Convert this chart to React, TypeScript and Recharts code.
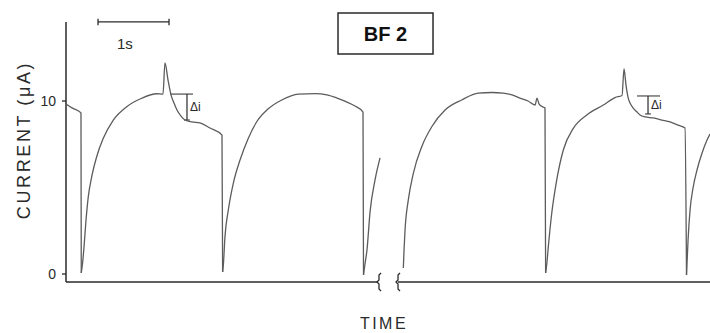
import React from 'react'
import {
  ComposedChart,
  Line,
  XAxis,
  YAxis,
  ReferenceLine,
  ReferenceArea,
} from 'recharts'

type Pt = { t: number; v: number }

// time in seconds (1 s = scale bar), current in µA
const leadIn: Pt[] = [
  { t: 0, v: 9.83 }, { t: 0.085, v: 9.6 }, { t: 0.211, v: 9.31 }, { t: 0.215, v: 0.06 },
]

const cycle1: Pt[] = [
  { t: 0.215, v: 0.06 }, { t: 0.235, v: 0.69 }, { t: 0.254, v: 1.58 }, { t: 0.282, v: 3.12 },
  { t: 0.314, v: 4.47 }, { t: 0.362, v: 5.62 }, { t: 0.432, v: 6.78 }, { t: 0.525, v: 7.84 },
  { t: 0.666, v: 8.9 }, { t: 0.855, v: 9.67 }, { t: 1.066, v: 10.16 }, { t: 1.278, v: 10.42 },
  { t: 1.366, v: 10.4 }, { t: 1.394, v: 12.2 },
  { t: 1.437, v: 11.21 }, { t: 1.479, v: 10.35 }, { t: 1.521, v: 9.88 }, { t: 1.563, v: 9.48 },
  { t: 1.62, v: 9.13 }, { t: 1.676, v: 8.9 }, { t: 1.775, v: 8.79 }, { t: 1.887, v: 8.73 },
  { t: 2.028, v: 8.44 }, { t: 2.197, v: 8.03 }, { t: 2.206, v: 0.12 },
]

const cycle2: Pt[] = [
  { t: 2.206, v: 0.12 }, { t: 2.216, v: 0.52 }, { t: 2.239, v: 2.16 }, { t: 2.286, v: 3.7 },
  { t: 2.356, v: 5.24 }, { t: 2.451, v: 6.59 }, { t: 2.568, v: 7.85 }, { t: 2.686, v: 8.8 },
  { t: 2.849, v: 9.55 }, { t: 3.038, v: 10.06 }, { t: 3.272, v: 10.4 }, { t: 3.507, v: 10.43 },
  { t: 3.676, v: 10.35 }, { t: 3.817, v: 10.17 }, { t: 3.958, v: 9.94 }, { t: 4.07, v: 9.71 },
  { t: 4.183, v: 9.36 }, { t: 4.19, v: -0.06 },
]

const beforeBreak: Pt[] = [
  { t: 4.19, v: -0.06 }, { t: 4.211, v: 0.58 }, { t: 4.239, v: 1.39 }, { t: 4.282, v: 3.58 },
  { t: 4.352, v: 5.43 }, { t: 4.423, v: 6.71 },
]

const cycle3: Pt[] = [
  { t: 4.751, v: 0.35 }, { t: 4.761, v: 1.39 }, { t: 4.775, v: 2.54 }, { t: 4.821, v: 4.28 },
  { t: 4.892, v: 5.82 }, { t: 5.01, v: 7.36 }, { t: 5.151, v: 8.51 }, { t: 5.338, v: 9.48 },
  { t: 5.573, v: 10.06 }, { t: 5.807, v: 10.45 }, { t: 6.0, v: 10.49 },
  { t: 6.155, v: 10.46 }, { t: 6.282, v: 10.35 }, { t: 6.394, v: 10.17 }, { t: 6.507, v: 10.0 },
  { t: 6.606, v: 9.77 }, { t: 6.634, v: 10.17 }, { t: 6.662, v: 9.83 }, { t: 6.718, v: 9.65 },
  { t: 6.746, v: 9.6 }, { t: 6.755, v: 0.06 },
]

const cycle4: Pt[] = [
  { t: 6.755, v: 0.06 }, { t: 6.77, v: 0.52 }, { t: 6.793, v: 1.58 }, { t: 6.841, v: 3.51 },
  { t: 6.911, v: 5.43 }, { t: 7.004, v: 7.17 }, { t: 7.145, v: 8.42 }, { t: 7.334, v: 9.19 },
  { t: 7.568, v: 9.77 }, { t: 7.732, v: 10.2 }, { t: 7.831, v: 10.32 }, { t: 7.859, v: 11.85 },
  { t: 7.887, v: 10.92 }, { t: 7.915, v: 10.23 }, { t: 7.944, v: 9.88 }, { t: 7.986, v: 9.6 },
  { t: 8.042, v: 9.36 }, { t: 8.085, v: 9.19 }, { t: 8.155, v: 9.08 }, { t: 8.268, v: 9.02 },
  { t: 8.394, v: 8.9 }, { t: 8.507, v: 8.79 }, { t: 8.62, v: 8.61 }, { t: 8.718, v: 8.44 },
  { t: 8.739, v: -0.06 },
]

const cycle5: Pt[] = [
  { t: 8.739, v: -0.06 }, { t: 8.761, v: 1.97 }, { t: 8.789, v: 3.7 }, { t: 8.831, v: 4.97 },
  { t: 8.887, v: 6.01 }, { t: 8.958, v: 6.99 }, { t: 9.028, v: 7.75 }, { t: 9.07, v: 8.09 },
]

// axis break marks
const breakLeft: Pt[] = [
  { t: 4.437, v: 0.06 }, { t: 4.408, v: -0.06 }, { t: 4.408, v: -0.35 }, { t: 4.38, v: -0.46 },
  { t: 4.408, v: -0.58 }, { t: 4.408, v: -0.87 }, { t: 4.437, v: -0.98 },
]
const breakRight: Pt[] = [
  { t: 4.704, v: 0.06 }, { t: 4.676, v: -0.06 }, { t: 4.676, v: -0.35 }, { t: 4.648, v: -0.46 },
  { t: 4.676, v: -0.58 }, { t: 4.676, v: -0.87 }, { t: 4.704, v: -0.98 },
]

const traces = [leadIn, cycle1, cycle2, beforeBreak, cycle3, cycle4, cycle5]
const yTicks = [0, 10]
const axisY = -0.46
const axisTop = 14.57
const xMax = 9.07

const FONT = '"Liberation Sans", Arial, sans-serif'
const INK = '#2a2a2a'
const TRACE = '#5c5c5c'

export default function App() {
  return (
    <div
      style={{
        position: 'absolute',
        left: 0,
        top: 0,
        width: 710,
        height: 333,
        background: '#fff',
        fontFamily: FONT,
      }}
    >
      <ComposedChart width={710} height={333} margin={{ top: 10, right: 0, bottom: 33, left: 0 }}>
        <XAxis dataKey="t" type="number" domain={[0, xMax]} allowDataOverflow hide />
        <YAxis
          type="number"
          domain={[-1.503, 15.26]}
          allowDataOverflow
          ticks={yTicks}
          width={66}
          axisLine={false}
          tickSize={4}
          tickMargin={6}
          tickLine={{ stroke: INK, strokeWidth: 1.3 }}
          tick={{ fontSize: 14, fill: INK, fontFamily: FONT }}
        />

        {/* axes drawn as segments so the x axis can be broken */}
        <ReferenceLine segment={[{ x: 0, y: axisY }, { x: 0, y: axisTop }]} stroke={INK} strokeWidth={1.5} ifOverflow="visible" />
        <ReferenceLine segment={[{ x: 0, y: axisY }, { x: 4.394, y: axisY }]} stroke={INK} strokeWidth={1.6} ifOverflow="visible" />
        <ReferenceLine segment={[{ x: 4.676, y: axisY }, { x: xMax, y: axisY }]} stroke={INK} strokeWidth={1.6} ifOverflow="visible" />

        {/* 1 s scale bar */}
        <ReferenceLine segment={[{ x: 0.451, y: 14.57 }, { x: 1.451, y: 14.57 }]} stroke={INK} strokeWidth={1.3} ifOverflow="visible" />
        <ReferenceLine segment={[{ x: 0.451, y: 14.76 }, { x: 0.451, y: 14.38 }]} stroke={INK} strokeWidth={1.3} ifOverflow="visible" />
        <ReferenceLine segment={[{ x: 1.451, y: 14.76 }, { x: 1.451, y: 14.38 }]} stroke={INK} strokeWidth={1.3} ifOverflow="visible" />

        <ReferenceArea
          x1={3.831}
          x2={5.169}
          y1={12.72}
          y2={15.09}
          fill="#fff"
          fillOpacity={1}
          stroke={INK}
          strokeWidth={1.5}
          ifOverflow="visible"
          label={{ value: 'BF 2', position: 'center', fontSize: 20, fill: '#111', fontFamily: FONT, fontWeight: 700 }}
        />

        {/* delta i brackets */}
        <ReferenceLine segment={[{ x: 1.465, y: 10.4 }, { x: 1.789, y: 10.4 }]} stroke={INK} strokeWidth={1} />
        <ReferenceLine
          segment={[{ x: 1.704, y: 10.4 }, { x: 1.704, y: 8.9 }]}
          stroke={INK}
          strokeWidth={1.2}
          label={{ value: 'Δi', position: 'right', offset: 3, fontSize: 12, fill: INK, fontFamily: FONT }}
        />
        <ReferenceLine segment={[{ x: 1.662, y: 8.9 }, { x: 1.746, y: 8.9 }]} stroke={INK} strokeWidth={1} />
        <ReferenceLine segment={[{ x: 8.042, y: 10.29 }, { x: 8.366, y: 10.29 }]} stroke={INK} strokeWidth={1} />
        <ReferenceLine
          segment={[{ x: 8.197, y: 10.29 }, { x: 8.197, y: 9.25 }]}
          stroke={INK}
          strokeWidth={1.2}
          label={{ value: 'Δi', position: 'right', offset: 3, fontSize: 12, fill: INK, fontFamily: FONT }}
        />
        <ReferenceLine segment={[{ x: 8.155, y: 9.25 }, { x: 8.239, y: 9.25 }]} stroke={INK} strokeWidth={1} />

        {traces.map((d, i) => (
          <Line
            key={i}
            data={d}
            dataKey="v"
            type="monotone"
            stroke={TRACE}
            strokeWidth={1.3}
            dot={false}
            activeDot={false}
            isAnimationActive={false}
          />
        ))}
        {[breakLeft, breakRight].map((d, i) => (
          <Line
            key={'b' + i}
            data={d}
            dataKey="v"
            type="linear"
            stroke={INK}
            strokeWidth={1.3}
            dot={false}
            activeDot={false}
            isAnimationActive={false}
          />
        ))}
      </ComposedChart>

      <div
        style={{
          position: 'absolute',
          left: 117,
          top: 35,
          fontSize: 15,
          color: INK,
        }}
      >
        1s
      </div>
      <div
        style={{
          position: 'absolute',
          left: 24,
          top: 140,
          transform: 'translate(-50%, -50%) rotate(-90deg)',
          whiteSpace: 'nowrap',
          fontSize: 18,
          letterSpacing: 2.6,
          color: INK,
        }}
      >
        CURRENT (μA)
      </div>
      <div
        style={{
          position: 'absolute',
          left: 384,
          top: 324,
          transform: 'translate(-50%, -50%)',
          fontSize: 16,
          letterSpacing: 2.5,
          color: INK,
        }}
      >
        TIME
      </div>
    </div>
  )
}
